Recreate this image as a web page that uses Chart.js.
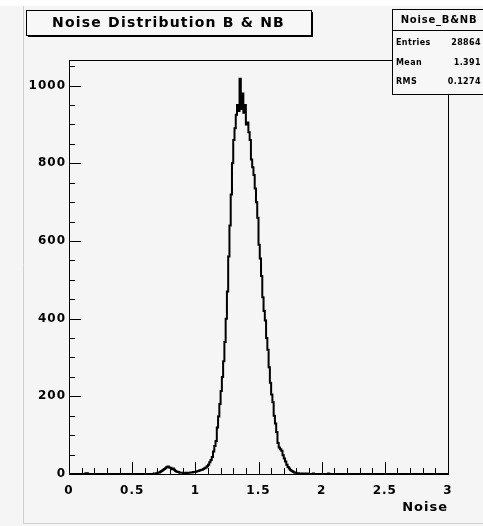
<!DOCTYPE html>
<html><head><meta charset="utf-8">
<script src="https://cdn.jsdelivr.net/npm/chart.js@4.4.1/dist/chart.umd.min.js"></script>
<style>html,body{margin:0;padding:0;background:#f5f5f5;overflow:hidden}canvas{display:block}</style>
</head><body>
<canvas id="c" width="483" height="526"></canvas>
<script>
// ---- data ----
const histTitle = 'Noise Distribution B & NB';
const xAxisTitle = 'Noise';
const xRange = [0, 3];
const yRange = [0, 1066];
const xTicks = [0, 0.5, 1, 1.5, 2, 2.5, 3];
const xTickLabels = ['0', '0.5', '1', '1.5', '2', '2.5', '3'];
const yTicks = [0, 200, 400, 600, 800, 1000];
const yTickLabels = ['0', '200', '400', '600', '800', '1000'];
const statName = 'Noise_B&NB';
const statLabels = ['Entries', 'Mean', 'RMS'];
const statValues = ['28864', '1.391', '0.1274'];
// 300 bins of width 0.01 between 0 and 3 (counts per bin)
const counts = [
  0,0,0,0,0,0,0,0,0,0,
  0,0,0,2,2,0,0,0,0,0,
  0,0,0,0,0,0,0,0,0,0,
  0,0,0,0,0,0,0,0,0,0,
  0,0,0,0,0,0,0,0,0,0,
  0,0,0,0,0,0,0,0,0,0,
  0,0,0,0,0,0,0,1,1,2,
  3,4,6,8,10,13,15,18,19,17,
  16,12,14,11,8,6,5,4,3,3,
  2,2,3,2,3,3,4,4,5,5,
  6,7,8,9,10,11,13,15,17,20,
  24,30,36,44,58,72,85,120,148,180,
  214,250,290,340,400,470,560,640,720,800,
  860,890,925,950,935,1018,940,980,930,950,
  900,905,880,860,810,790,770,735,700,660,
  590,555,510,455,420,395,350,320,275,235,
  205,185,150,130,108,80,68,64,60,48,
  40,32,24,18,14,10,8,6,4,3,
  2,2,1,1,1,0,1,0,1,0,
  0,0,0,1,0,0,0,0,0,0,
  0,0,0,0,0,1,0,0,0,0,
  0,0,0,0,0,0,0,0,0,0,
  0,0,0,0,0,0,0,0,0,0,
  0,0,0,0,0,0,0,0,0,0,
  0,0,0,0,0,0,0,0,0,0,
  0,0,0,0,0,0,0,0,0,0,
  0,0,0,0,0,0,0,0,0,0,
  0,0,0,0,0,0,0,0,0,0,
  0,0,0,0,0,0,0,0,0,0,
  0,0,0,0,0,0,0,0,0,0
];
// ---- build points at bin low edges ----
const binW = (xRange[1] - xRange[0]) / counts.length;
const pts = counts.map((v, i) => ({x: xRange[0] + i * binW, y: v}));
pts.push({x: xRange[1], y: 0});

const FONT = '"DejaVu Sans", "Liberation Sans", sans-serif';

const decor = {
  id: 'decor',
  beforeDraw(chart) {
    const ctx = chart.ctx;
    ctx.save();
    ctx.fillStyle = '#f5f5f5';
    ctx.fillRect(0, 0, chart.width, chart.height);
    ctx.fillStyle = '#ffffff';
    ctx.fillRect(0, 0, chart.width, 6);
    ctx.strokeStyle = '#cfcfcf';
    ctx.lineWidth = 1;
    ctx.beginPath();
    ctx.moveTo(23.5, 6); ctx.lineTo(23.5, 523.5); ctx.lineTo(483, 523.5);
    ctx.stroke();
    ctx.restore();
    // wide lettering for the tick labels drawn next by the scales
    ctx.letterSpacing = '1px';
  },
  afterDraw(chart) {
    const ctx = chart.ctx;
    const a = chart.chartArea;
    const xs = chart.scales.x, ys = chart.scales.y;
    ctx.save();
    ctx.letterSpacing = '0px';
    // frame
    ctx.strokeStyle = '#000';
    ctx.lineWidth = 1;
    ctx.strokeRect(Math.round(a.left) + 0.5, Math.round(a.top) + 0.5,
                   Math.round(a.right - a.left), Math.round(a.bottom - a.top));
    // x ticks (inward, from bottom)
    ctx.beginPath();
    for (let k = 0; k <= 30; k++) {
      const v = xRange[0] + k * 0.1;
      const px = Math.round(xs.getPixelForValue(v)) + 0.5;
      const len = (k % 5 === 0) ? 12 : 6;
      ctx.moveTo(px, a.bottom); ctx.lineTo(px, a.bottom - len);
    }
    // y ticks (inward, from left)
    for (let v = 0; v <= yRange[1]; v += 50) {
      const py = Math.round(ys.getPixelForValue(v)) + 0.5;
      const len = (v % 200 === 0) ? 12 : 6;
      ctx.moveTo(a.left, py); ctx.lineTo(a.left + len, py);
    }
    ctx.stroke();
    // axis title
    ctx.fillStyle = '#000';
    ctx.letterSpacing = '1px';
    ctx.font = 'bold 13px ' + FONT;
    ctx.textAlign = 'right';
    ctx.textBaseline = 'middle';
    ctx.fillText(xAxisTitle, a.right, 508);

    // title box
    const tb = {l: 26, t: 10, r: 311, b: 35};
    ctx.fillStyle = '#000';
    ctx.fillRect(tb.l + 2, tb.b, tb.r - tb.l, 2);
    ctx.fillRect(tb.r, tb.t + 2, 2, tb.b - tb.t);
    ctx.fillStyle = '#f7f7f7';
    ctx.fillRect(tb.l, tb.t, tb.r - tb.l, tb.b - tb.t);
    ctx.strokeStyle = '#000';
    ctx.strokeRect(tb.l + 0.5, tb.t + 0.5, tb.r - tb.l, tb.b - tb.t);
    ctx.fillStyle = '#000';
    ctx.font = 'bold 14px ' + FONT;
    ctx.textAlign = 'center';
    ctx.letterSpacing = '1.2px';
    ctx.fillText(histTitle, (tb.l + tb.r) / 2, 23);

    // stats box
    const sb = {l: 392, t: 9, r: 486, b: 94};
    ctx.fillStyle = '#f7f7f7';
    ctx.fillRect(sb.l, sb.t, sb.r - sb.l, sb.b - sb.t);
    ctx.strokeStyle = '#000';
    ctx.strokeRect(sb.l + 0.5, sb.t + 0.5, sb.r - sb.l, sb.b - sb.t);
    ctx.beginPath();
    ctx.moveTo(sb.l, 30.5); ctx.lineTo(sb.r, 30.5);
    ctx.stroke();
    ctx.fillStyle = '#000';
    ctx.font = 'bold 10px ' + FONT;
    ctx.textAlign = 'center';
    ctx.letterSpacing = '0.8px';
    ctx.fillText(statName, 439, 20);
    ctx.font = 'bold 8px ' + FONT;
    ctx.letterSpacing = '0.4px';
    const rowsY = [43, 63, 82];
    statLabels.forEach((lab, i) => {
      ctx.textAlign = 'left';
      ctx.fillText(lab, 396, rowsY[i]);
      ctx.textAlign = 'right';
      ctx.fillText(statValues[i], 481, rowsY[i]);
    });
    ctx.restore();
    ctx.letterSpacing = '0px';
  }
};

new Chart(document.getElementById('c'), {
  type: 'line',
  data: {
    datasets: [{
      data: pts,
      stepped: 'before',
      borderColor: '#000',
      borderWidth: 2,
      pointRadius: 0,
      fill: false,
      tension: 0
    }]
  },
  options: {
    responsive: false,
    animation: false,
    devicePixelRatio: 1,
    layout: {padding: {top: 60, right: 35, left: 0, bottom: 0}},
    plugins: {legend: {display: false}, tooltip: {enabled: false}, title: {display: false}},
    scales: {
      x: {
        type: 'linear', min: xRange[0], max: xRange[1],
        border: {display: false},
        grid: {display: false, drawTicks: false},
        afterBuildTicks: s => { s.ticks = xTicks.map(v => ({value: v})); },
        ticks: {
          color: '#000', padding: 10, maxRotation: 0, autoSkip: false,
          font: {family: FONT, weight: 'bold', size: 12},
          callback: (v) => xTickLabels[xTicks.indexOf(v)]
        },
        afterFit: s => { s.height = 52; }
      },
      y: {
        type: 'linear', min: yRange[0], max: yRange[1],
        border: {display: false},
        grid: {display: false, drawTicks: false},
        afterBuildTicks: s => { s.ticks = yTicks.map(v => ({value: v})); },
        ticks: {
          color: '#000', padding: 3,
          font: {family: FONT, weight: 'bold', size: 12},
          callback: (v) => yTickLabels[yTicks.indexOf(v)]
        },
        afterFit: s => { s.width = 69; }
      }
    }
  },
  plugins: [decor]
});
</script>
</body></html>
